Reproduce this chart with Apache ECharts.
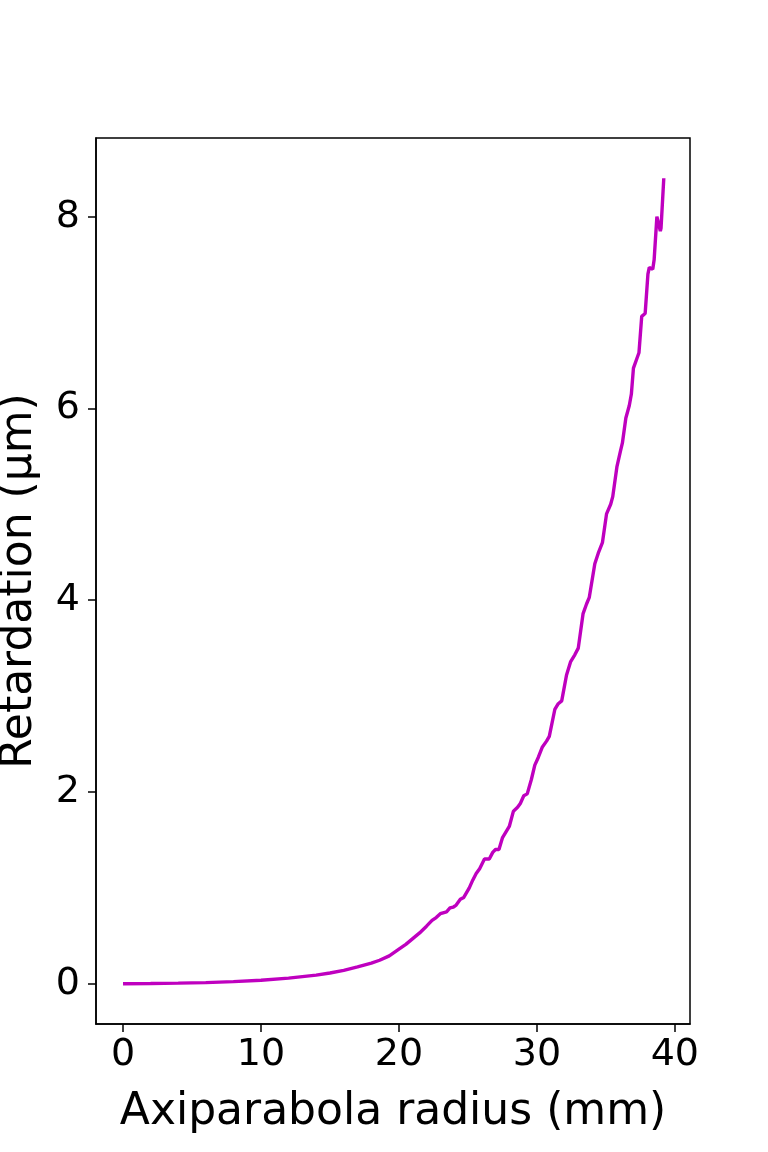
<!DOCTYPE html>
<html>
<head>
<meta charset="utf-8">
<script src="https://cdn.jsdelivr.net/npm/echarts@6/dist/echarts.min.js"></script>
<style>
  html, body { margin: 0; padding: 0; background: #fff; }
  #chart { width: 768px; height: 1152px; }
</style>
</head>
<body>
<div id="chart"></div>
<script>
// Data
const radius = [0, 2, 4, 6, 8, 10, 12, 14, 15, 16, 17, 18, 18.6, 19.3, 20, 20.5, 21, 21.5, 22, 22.4,
  22.7, 23.0, 23.2, 23.45, 23.7, 23.95, 24.15, 24.45, 24.7, 25.1, 25.35, 25.6, 25.85, 26.2, 26.55,
  26.8, 27.0, 27.25, 27.5, 27.75, 28.0, 28.3, 28.6, 28.8, 29.05, 29.3, 29.6, 29.85, 30.1, 30.4,
  30.7, 30.9, 31.3, 31.55, 31.8, 32.15, 32.45, 32.75, 33.0, 33.35, 33.6, 33.8, 34.2, 34.45, 34.75,
  35.05, 35.35, 35.5, 35.8, 36.05, 36.2, 36.45, 36.7, 36.85, 37.0, 37.25, 37.4, 37.6, 37.85, 38.05,
  38.15, 38.4, 38.5, 38.7, 38.8, 38.95, 39.0, 39.2];
const retardation = [0, 0.002, 0.006, 0.012, 0.022, 0.036, 0.058, 0.09, 0.112, 0.14, 0.175, 0.215,
  0.245, 0.29, 0.36, 0.41, 0.47, 0.53, 0.6, 0.66,
  0.69, 0.73, 0.74, 0.75, 0.79, 0.80, 0.82, 0.88, 0.90, 1.0, 1.08, 1.15, 1.2, 1.30, 1.30,
  1.37, 1.40, 1.40, 1.52, 1.58, 1.64, 1.80, 1.84, 1.88, 1.96, 1.98, 2.13, 2.28, 2.36, 2.47,
  2.53, 2.58, 2.86, 2.92, 2.95, 3.22, 3.36, 3.43, 3.50, 3.86, 3.96, 4.03, 4.38, 4.49, 4.60,
  4.90, 5.0, 5.08, 5.39, 5.55, 5.64, 5.90, 6.03, 6.15, 6.42, 6.52, 6.58, 6.96, 6.99, 7.40,
  7.47, 7.45, 7.55, 8.0, 8.0, 7.85, 7.88, 8.40];
const xTicks = [0, 10, 20, 30, 40];
const yTicks = [0, 2, 4, 6, 8];
const xLabel = 'Axiparabola radius (mm)';
const yLabel = 'Retardation (µm)';

const seriesData = radius.map((r, i) => [r, retardation[i]]);
const font = 'DejaVu Sans';

const chart = echarts.init(document.getElementById('chart'), null, { renderer: 'canvas' });
chart.setOption({
  animation: false,
  backgroundColor: '#ffffff',
  grid: {
    left: 96, right: 78, top: 138, bottom: 128,
    containLabel: false,
    outerBoundsMode: 'none',
    show: true, borderColor: '#000', borderWidth: 1.5, backgroundColor: 'transparent'
  },
  xAxis: {
    type: 'value',
    min: -1.96, max: 41.1,
    name: xLabel,
    nameLocation: 'middle',
    nameGap: 67,
    nameTextStyle: { fontFamily: font, fontSize: 44, color: '#000' },
    axisLine: { show: true, onZero: false, lineStyle: { color: '#000', width: 1.5 } },
    axisTick: { show: true, inside: false, length: 8, lineStyle: { color: '#000', width: 1.5 }, customValues: xTicks },
    axisLabel: { fontFamily: font, fontSize: 38, color: '#000', margin: 12, customValues: xTicks },
    splitLine: { show: false }
  },
  yAxis: {
    type: 'value',
    min: -0.42, max: 8.82,
    name: yLabel,
    nameLocation: 'middle',
    nameGap: 54,
    nameTextStyle: { fontFamily: font, fontSize: 44, color: '#000' },
    axisLine: { show: true, onZero: false, lineStyle: { color: '#000', width: 1.5 } },
    axisTick: { show: true, inside: false, length: 8, lineStyle: { color: '#000', width: 1.5 }, customValues: yTicks },
    axisLabel: { fontFamily: font, fontSize: 38, color: '#000', margin: 16, customValues: yTicks },
    splitLine: { show: false }
  },
  series: [{
    type: 'line',
    data: seriesData,
    showSymbol: false,
    symbol: 'none',
    lineStyle: { color: '#BF00BF', width: 3.4 },
    smooth: false
  }]
});
</script>
</body>
</html>
